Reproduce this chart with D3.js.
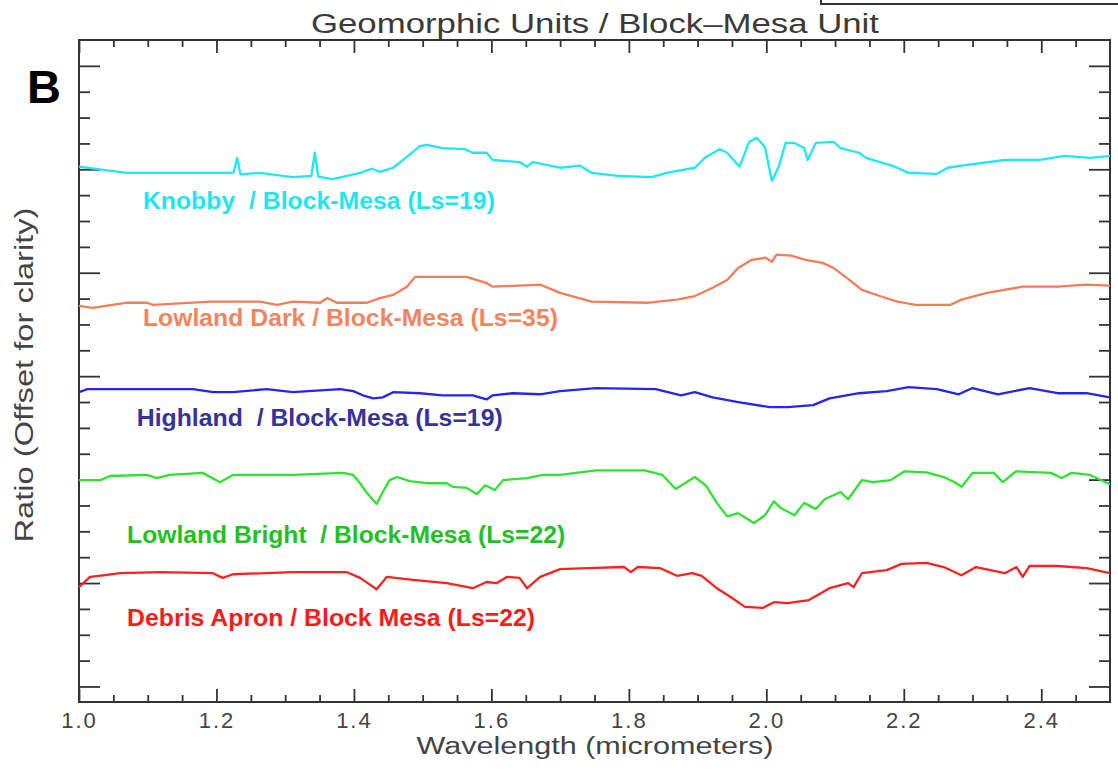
<!DOCTYPE html>
<html>
<head>
<meta charset="utf-8">
<script src="https://cdn.jsdelivr.net/npm/d3@7"></script>
<style>
  html, body { margin: 0; padding: 0; background: #fff; }
  svg { display: block; }
</style>
</head>
<body>
<svg id="chart" width="1118" height="771"></svg>
<script>
// ---- Spectral ratio data: [wavelength (µm), ratio (offset for clarity)] ----
const knobby = [
  [1.000,1.405],[1.035,1.399],[1.070,1.393],[1.118,1.393],[1.191,1.393],[1.220,1.393],
  [1.225,1.394],[1.230,1.422],[1.235,1.390],[1.263,1.393],[1.311,1.385],[1.338,1.387],
  [1.343,1.432],[1.348,1.386],[1.369,1.381],[1.409,1.393],[1.426,1.401],[1.438,1.395],
  [1.457,1.403],[1.477,1.424],[1.496,1.445],[1.506,1.447],[1.529,1.441],[1.561,1.439],
  [1.573,1.432],[1.593,1.432],[1.602,1.418],[1.641,1.414],[1.652,1.405],[1.660,1.414],
  [1.700,1.403],[1.729,1.407],[1.746,1.393],[1.787,1.387],[1.833,1.385],[1.855,1.393],
  [1.896,1.403],[1.912,1.424],[1.932,1.439],[1.943,1.432],[1.961,1.405],[1.975,1.453],
  [1.986,1.461],[1.998,1.443],[2.008,1.378],[2.018,1.405],[2.028,1.451],[2.041,1.451],
  [2.055,1.441],[2.060,1.418],[2.072,1.451],[2.098,1.453],[2.108,1.441],[2.135,1.432],
  [2.145,1.422],[2.187,1.405],[2.207,1.393],[2.248,1.391],[2.264,1.403],[2.284,1.407],
  [2.347,1.418],[2.398,1.418],[2.434,1.426],[2.471,1.422],[2.500,1.426]
];
const lowlandDark = [
  [1.000,1.136],[1.020,1.132],[1.070,1.142],[1.099,1.142],[1.108,1.138],[1.191,1.144],
  [1.263,1.144],[1.288,1.138],[1.311,1.144],[1.351,1.142],[1.361,1.151],[1.375,1.142],
  [1.419,1.142],[1.438,1.151],[1.457,1.157],[1.477,1.173],[1.489,1.192],[1.564,1.192],
  [1.593,1.180],[1.602,1.173],[1.671,1.177],[1.700,1.161],[1.746,1.144],[1.829,1.142],
  [1.870,1.148],[1.896,1.155],[1.922,1.171],[1.943,1.186],[1.959,1.209],[1.979,1.225],
  [1.999,1.229],[2.008,1.221],[2.015,1.235],[2.036,1.233],[2.057,1.225],[2.082,1.219],
  [2.098,1.209],[2.119,1.188],[2.139,1.167],[2.165,1.155],[2.191,1.144],[2.217,1.138],
  [2.268,1.138],[2.284,1.148],[2.321,1.161],[2.373,1.173],[2.424,1.173],[2.466,1.177],
  [2.500,1.175]
];
const highland = [
  [1.000,0.969],[1.012,0.975],[1.070,0.975],[1.166,0.975],[1.195,0.969],[1.224,0.969],
  [1.273,0.975],[1.311,0.969],[1.380,0.975],[1.399,0.971],[1.413,0.963],[1.428,0.957],
  [1.442,0.959],[1.457,0.969],[1.496,0.967],[1.529,0.963],[1.573,0.963],[1.593,0.955],
  [1.602,0.963],[1.631,0.967],[1.671,0.965],[1.700,0.971],[1.752,0.977],[1.839,0.975],
  [1.876,0.963],[1.896,0.969],[1.922,0.959],[1.959,0.950],[2.005,0.940],[2.031,0.940],
  [2.068,0.944],[2.092,0.957],[2.135,0.967],[2.175,0.971],[2.207,0.979],[2.248,0.975],
  [2.280,0.965],[2.300,0.977],[2.337,0.965],[2.383,0.977],[2.424,0.967],[2.466,0.967],
  [2.500,0.959]
];
const lowlandBright = [
  [1.000,0.799],[1.031,0.799],[1.045,0.807],[1.099,0.809],[1.113,0.803],[1.132,0.809],
  [1.180,0.813],[1.205,0.795],[1.224,0.809],[1.311,0.809],[1.384,0.813],[1.399,0.809],
  [1.409,0.793],[1.419,0.774],[1.433,0.753],[1.442,0.776],[1.452,0.799],[1.463,0.805],
  [1.481,0.797],[1.506,0.793],[1.535,0.793],[1.544,0.786],[1.564,0.784],[1.579,0.772],
  [1.591,0.789],[1.605,0.780],[1.617,0.799],[1.652,0.803],[1.675,0.809],[1.700,0.809],
  [1.752,0.818],[1.823,0.818],[1.849,0.809],[1.868,0.782],[1.896,0.805],[1.912,0.789],
  [1.928,0.755],[1.943,0.729],[1.959,0.735],[1.982,0.716],[1.998,0.731],[2.011,0.758],
  [2.021,0.745],[2.041,0.731],[2.055,0.755],[2.072,0.743],[2.085,0.762],[2.108,0.776],
  [2.119,0.762],[2.139,0.799],[2.155,0.795],[2.181,0.799],[2.201,0.816],[2.233,0.814],
  [2.258,0.805],[2.274,0.795],[2.284,0.786],[2.300,0.813],[2.331,0.813],[2.344,0.795],
  [2.363,0.816],[2.414,0.813],[2.430,0.803],[2.444,0.813],[2.471,0.809],[2.500,0.791]
];
const debrisApron = [
  [1.000,0.592],[1.016,0.612],[1.035,0.615],[1.060,0.619],[1.118,0.621],[1.195,0.619],
  [1.209,0.610],[1.224,0.617],[1.311,0.621],[1.390,0.621],[1.409,0.610],[1.433,0.588],
  [1.448,0.612],[1.486,0.606],[1.535,0.600],[1.573,0.590],[1.593,0.602],[1.608,0.600],
  [1.623,0.612],[1.641,0.610],[1.652,0.590],[1.671,0.612],[1.700,0.627],[1.740,0.629],
  [1.793,0.631],[1.803,0.621],[1.813,0.631],[1.845,0.629],[1.870,0.614],[1.892,0.619],
  [1.906,0.614],[1.928,0.590],[1.948,0.573],[1.969,0.554],[1.995,0.552],[2.011,0.563],
  [2.031,0.561],[2.062,0.567],[2.092,0.590],[2.119,0.600],[2.127,0.592],[2.139,0.619],
  [2.175,0.625],[2.197,0.637],[2.233,0.639],[2.258,0.631],[2.284,0.615],[2.305,0.631],
  [2.347,0.619],[2.364,0.631],[2.373,0.612],[2.383,0.633],[2.424,0.633],[2.466,0.629],
  [2.500,0.619]
];

const seriesLabels = [
  "Knobby  / Block-Mesa (Ls=19)",
  "Lowland Dark / Block-Mesa (Ls=35)",
  "Highland  / Block-Mesa (Ls=19)",
  "Lowland Bright  / Block-Mesa (Ls=22)",
  "Debris Apron / Block Mesa (Ls=22)"
];

// Axis ticks
const xMajorTicks = [1.0, 1.2, 1.4, 1.6, 1.8, 2.0, 2.2, 2.4];
const xTickLabels = ["1.0", "1.2", "1.4", "1.6", "1.8", "2.0", "2.2", "2.4"];
const xMinorTicks = [1.05,1.10,1.15,1.25,1.30,1.35,1.45,1.50,1.55,1.65,1.70,1.75,
                     1.85,1.90,1.95,2.05,2.10,2.15,2.25,2.30,2.35,2.45];
const yMajorTicks = [0.4, 0.6, 0.8, 1.0, 1.2, 1.4, 1.6];
const yMinorTicks = [0.45,0.50,0.55,0.65,0.70,0.75,0.85,0.90,0.95,1.05,1.10,1.15,
                     1.25,1.30,1.35,1.45,1.50,1.55];

// ---- Layout ----
const svg = d3.select("#chart");
const plot = { left: 79, right: 1110, top: 40, bottom: 702 };
const x = d3.scaleLinear().domain([1.0, 2.5]).range([plot.left, plot.right]);
const y = d3.scaleLinear().domain([0.37, 1.65]).range([plot.bottom, plot.top]);

const axisColor = "#333";
const tickFont = "'Liberation Sans', Arial, sans-serif";

function styleAxis(g) {
  g.select(".domain").remove();
  g.selectAll(".tick line").attr("stroke", axisColor).attr("stroke-width", 1.8);
}

// Bottom axis: major (labelled) and minor ticks pointing inward
svg.append("g").attr("transform", `translate(0,${plot.bottom})`)
  .call(d3.axisBottom(x).tickValues(xMinorTicks).tickSize(-7).tickFormat(""))
  .call(styleAxis);
svg.append("g").attr("transform", `translate(0,${plot.bottom})`)
  .call(d3.axisBottom(x).tickValues(xMajorTicks).tickSize(-13).tickPadding(10)
        .tickFormat((d, i) => xTickLabels[i]))
  .call(styleAxis)
  .call(g => g.selectAll(".tick text")
    .attr("font-family", tickFont).attr("font-size", 22)
    .attr("fill", "#444").attr("letter-spacing", 2));

// Top axis
svg.append("g").attr("transform", `translate(0,${plot.top})`)
  .call(d3.axisTop(x).tickValues(xMinorTicks).tickSize(-7).tickFormat(""))
  .call(styleAxis);
svg.append("g").attr("transform", `translate(0,${plot.top})`)
  .call(d3.axisTop(x).tickValues(xMajorTicks).tickSize(-13).tickFormat(""))
  .call(styleAxis);

// Left and right axes
svg.append("g").attr("transform", `translate(${plot.left},0)`)
  .call(d3.axisLeft(y).tickValues(yMinorTicks).tickSize(-11).tickFormat(""))
  .call(styleAxis);
svg.append("g").attr("transform", `translate(${plot.left},0)`)
  .call(d3.axisLeft(y).tickValues(yMajorTicks).tickSize(-21).tickFormat(""))
  .call(styleAxis);
svg.append("g").attr("transform", `translate(${plot.right},0)`)
  .call(d3.axisRight(y).tickValues(yMinorTicks).tickSize(-11).tickFormat(""))
  .call(styleAxis);
svg.append("g").attr("transform", `translate(${plot.right},0)`)
  .call(d3.axisRight(y).tickValues(yMajorTicks).tickSize(-21).tickFormat(""))
  .call(styleAxis);

// Plot frame
svg.append("rect")
  .attr("x", plot.left).attr("y", plot.top)
  .attr("width", plot.right - plot.left).attr("height", plot.bottom - plot.top)
  .attr("fill", "none").attr("stroke", axisColor).attr("stroke-width", 2);

// Partial box at the top right edge
svg.append("rect")
  .attr("x", 821).attr("y", -20).attr("width", 320).attr("height", 24)
  .attr("fill", "none").attr("stroke", axisColor).attr("stroke-width", 2);

// ---- Spectra ----
const series = [
  { data: knobby,        line: "#1ee8f0", text: "#1fe6ee" },
  { data: lowlandDark,   line: "#f47c5a", text: "#f4845f" },
  { data: highland,      line: "#2525ee", text: "#333399" },
  { data: lowlandBright, line: "#2fe22f", text: "#22c022" },
  { data: debrisApron,   line: "#f82222", text: "#ff1a1a" }
];
const lineGen = d3.line().x(d => x(d[0])).y(d => y(d[1]));

svg.append("g").selectAll("path")
  .data(series).join("path")
  .attr("d", s => lineGen(s.data))
  .attr("fill", "none")
  .attr("stroke", s => s.line)
  .attr("stroke-width", 2.3)
  .attr("stroke-linejoin", "round");

// Series labels: start wavelength, baseline ratio, text width
const labelLayout = [
  { w: 1.093, v: 1.323, len: 352 },
  { w: 1.093, v: 1.097, len: 415 },
  { w: 1.084, v: 0.904, len: 366 },
  { w: 1.070, v: 0.677, len: 438 },
  { w: 1.070, v: 0.517, len: 408 }
];
svg.append("g").selectAll("text")
  .data(seriesLabels).join("text")
  .attr("x", (d, i) => x(labelLayout[i].w))
  .attr("y", (d, i) => y(labelLayout[i].v))
  .attr("textLength", (d, i) => labelLayout[i].len)
  .attr("lengthAdjust", "spacingAndGlyphs")
  .attr("font-family", tickFont)
  .attr("font-weight", "bold")
  .attr("font-size", 23)
  .attr("fill", (d, i) => series[i].text)
  .style("white-space", "pre")
  .text(d => d);

// ---- Titles ----
svg.append("text")
  .attr("x", 595).attr("y", 33)
  .attr("text-anchor", "middle")
  .attr("textLength", 568).attr("lengthAdjust", "spacingAndGlyphs")
  .attr("font-family", tickFont).attr("font-size", 27).attr("fill", "#3a3a3a")
  .text("Geomorphic Units / Block\u2013Mesa Unit");

svg.append("text")
  .attr("x", 595).attr("y", 754)
  .attr("text-anchor", "middle")
  .attr("textLength", 357).attr("lengthAdjust", "spacingAndGlyphs")
  .attr("font-family", tickFont).attr("font-size", 23).attr("fill", "#444")
  .text("Wavelength (micrometers)");

svg.append("text")
  .attr("transform", "translate(33,375) rotate(-90)")
  .attr("text-anchor", "middle")
  .attr("textLength", 335).attr("lengthAdjust", "spacingAndGlyphs")
  .attr("font-family", tickFont).attr("font-size", 25).attr("fill", "#444")
  .text("Ratio (Offset for clarity)");

// Panel letter
svg.append("text")
  .attr("x", 27).attr("y", 103)
  .attr("font-family", tickFont).attr("font-weight", "bold")
  .attr("font-size", 47).attr("fill", "#000")
  .text("B");
</script>
</body>
</html>
